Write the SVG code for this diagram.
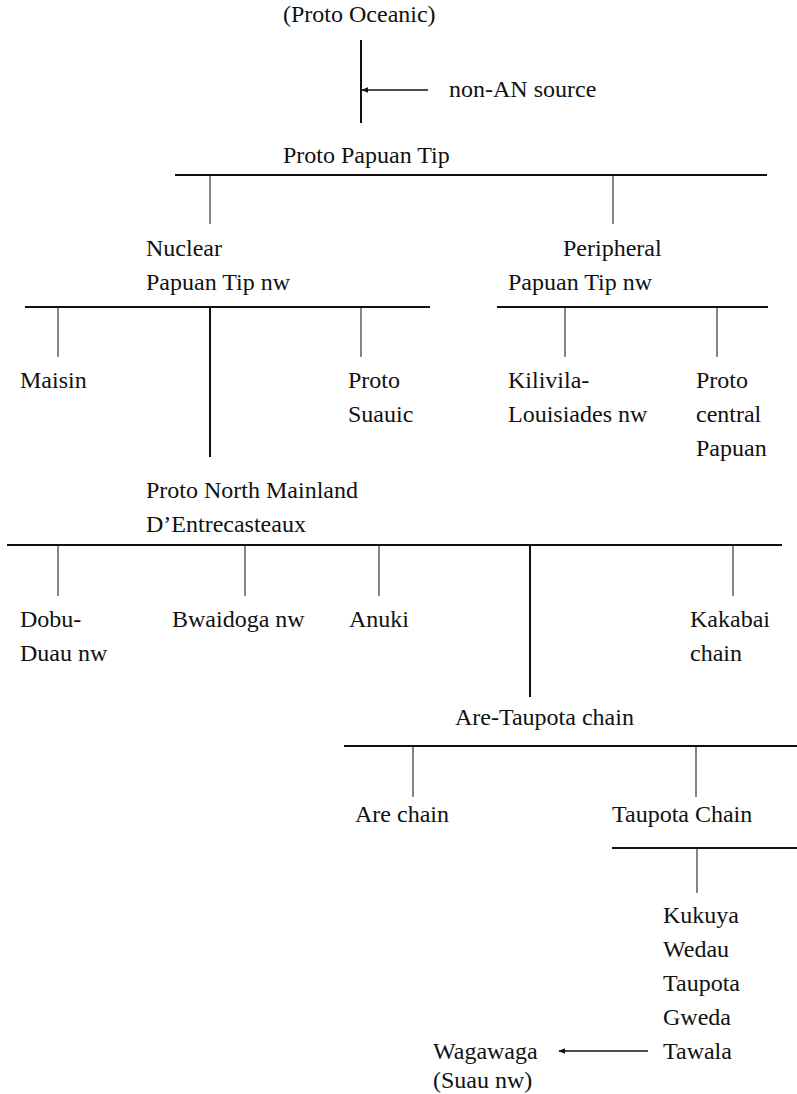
<svg xmlns="http://www.w3.org/2000/svg" width="797" height="1094" viewBox="0 0 797 1094">
<style>
text{font-family:"Liberation Serif","DejaVu Serif","Times New Roman",serif;font-size:24px;fill:#111}
.bar{stroke:#111;stroke-width:2;fill:none}
.tick{stroke:#444;stroke-width:1.3;fill:none}
.stem{stroke:#111;stroke-width:2;fill:none}
.arr{stroke:#111;stroke-width:1.3;fill:none;marker-end:url(#ah)}
</style>
<defs>
<marker id="ah" viewBox="0 0 10 10" refX="9" refY="5" markerWidth="7" markerHeight="7" markerUnits="userSpaceOnUse" orient="auto"><path d="M0,1 L10,5 L0,9 z" fill="#111"/></marker>
</defs>
<rect width="797" height="1094" fill="#fff"/>
<g id="connectors">
<line class="stem" x1="361" y1="40" x2="361" y2="123"/>
<line class="arr" x1="428" y1="90" x2="362" y2="90"/>
<line class="bar" x1="175" y1="175" x2="767" y2="175"/>
<line class="tick" x1="210" y1="176" x2="210" y2="224"/>
<line class="tick" x1="613" y1="176" x2="613" y2="224"/>
<line class="bar" x1="25" y1="307" x2="430" y2="307"/>
<line class="bar" x1="497" y1="307" x2="768" y2="307"/>
<line class="tick" x1="58" y1="308" x2="58" y2="357"/>
<line class="stem" x1="210" y1="308" x2="210" y2="457"/>
<line class="tick" x1="361" y1="308" x2="361" y2="357"/>
<line class="tick" x1="565" y1="308" x2="565" y2="357"/>
<line class="tick" x1="717" y1="308" x2="717" y2="357"/>
<line class="bar" x1="7" y1="545" x2="782" y2="545"/>
<line class="tick" x1="58" y1="546" x2="58" y2="596"/>
<line class="tick" x1="245" y1="546" x2="245" y2="596"/>
<line class="tick" x1="379" y1="546" x2="379" y2="596"/>
<line class="stem" x1="530" y1="546" x2="530" y2="697"/>
<line class="tick" x1="733" y1="546" x2="733" y2="596"/>
<line class="bar" x1="344" y1="746" x2="797" y2="746"/>
<line class="tick" x1="413" y1="747" x2="413" y2="797"/>
<line class="tick" x1="696" y1="747" x2="696" y2="797"/>
<line class="bar" x1="612" y1="848" x2="797" y2="848"/>
<line class="tick" x1="697" y1="849" x2="697" y2="893"/>
<line class="arr" x1="648" y1="1051" x2="559" y2="1051"/>
</g>
<g font-family="Liberation Serif, serif">
<g id="proto-oceanic"><text x="283" y="22">(Proto Oceanic)</text></g>
<g id="non-an"><text x="449" y="97">non-AN source</text></g>
<g id="proto-papuan-tip"><text x="283" y="163">Proto Papuan Tip</text></g>
<g id="nuclear"><text x="146" y="256">Nuclear</text><text x="146" y="290">Papuan Tip nw</text></g>
<g id="peripheral"><text x="563" y="256">Peripheral</text><text x="508" y="290">Papuan Tip nw</text></g>
<g id="maisin"><text x="20" y="388">Maisin</text></g>
<g id="proto-suauic"><text x="348" y="388">Proto</text><text x="348" y="422">Suauic</text></g>
<g id="kilivila"><text x="508" y="388">Kilivila-</text><text x="508" y="422">Louisiades nw</text></g>
<g id="proto-central"><text x="696" y="388">Proto</text><text x="696" y="422">central</text><text x="696" y="456">Papuan</text></g>
<g id="pnmd"><text x="146" y="498">Proto North Mainland</text><text x="146" y="532">D’Entrecasteaux</text></g>
<g id="dobu"><text x="20" y="627">Dobu-</text><text x="20" y="661">Duau nw</text></g>
<g id="bwaidoga"><text x="172" y="627">Bwaidoga nw</text></g>
<g id="anuki"><text x="349" y="627">Anuki</text></g>
<g id="kakabai"><text x="690" y="627">Kakabai</text><text x="690" y="661">chain</text></g>
<g id="are-taupota"><text x="455" y="725">Are-Taupota chain</text></g>
<g id="are"><text x="355" y="822">Are chain</text></g>
<g id="taupota-chain"><text x="612" y="822">Taupota Chain</text></g>
<g id="taupota-members"><text x="663" y="923">Kukuya</text><text x="663" y="957">Wedau</text><text x="663" y="991">Taupota</text><text x="663" y="1025">Gweda</text><text x="663" y="1059">Tawala</text></g>
<g id="wagawaga"><text x="433" y="1059">Wagawaga</text><text x="433" y="1088">(Suau nw)</text></g>
</g>
</svg>
